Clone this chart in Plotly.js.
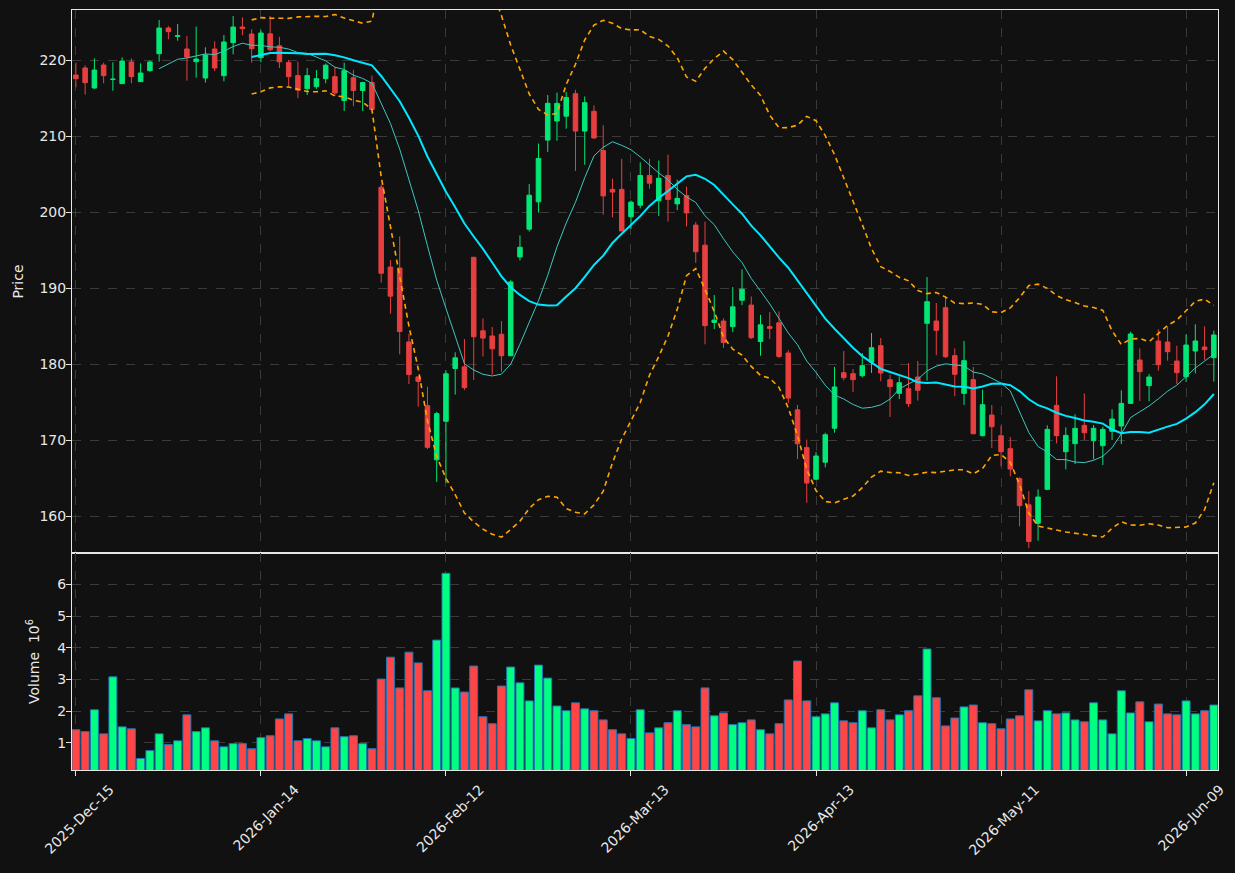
<!DOCTYPE html>
<html>
<head>
<meta charset="utf-8">
<script src="https://cdn.plot.ly/plotly-3.0.1.min.js"></script>
<style>html,body{margin:0;padding:0;background:#111111;}#chart{width:1235px;height:873px;}</style>
</head>
<body>
<div id="chart"></div>
<script>
// Trading dates (NYSE calendar)
const dates = [
"2025-12-15","2025-12-16","2025-12-17","2025-12-18","2025-12-19","2025-12-22","2025-12-23","2025-12-24","2025-12-26","2025-12-29","2025-12-30","2025-12-31",
"2026-01-02","2026-01-05","2026-01-06","2026-01-07","2026-01-08","2026-01-09","2026-01-12","2026-01-13","2026-01-14","2026-01-15","2026-01-16","2026-01-20","2026-01-21","2026-01-22","2026-01-23","2026-01-26","2026-01-27","2026-01-28","2026-01-29","2026-01-30",
"2026-02-02","2026-02-03","2026-02-04","2026-02-05","2026-02-06","2026-02-09","2026-02-10","2026-02-11","2026-02-12","2026-02-13","2026-02-17","2026-02-18","2026-02-19","2026-02-20","2026-02-23","2026-02-24","2026-02-25","2026-02-26","2026-02-27",
"2026-03-02","2026-03-03","2026-03-04","2026-03-05","2026-03-06","2026-03-09","2026-03-10","2026-03-11","2026-03-12","2026-03-13","2026-03-16","2026-03-17","2026-03-18","2026-03-19","2026-03-20","2026-03-23","2026-03-24","2026-03-25","2026-03-26","2026-03-27","2026-03-30","2026-03-31",
"2026-04-01","2026-04-02","2026-04-06","2026-04-07","2026-04-08","2026-04-09","2026-04-10","2026-04-13","2026-04-14","2026-04-15","2026-04-16","2026-04-17","2026-04-20","2026-04-21","2026-04-22","2026-04-23","2026-04-24","2026-04-27","2026-04-28","2026-04-29","2026-04-30",
"2026-05-01","2026-05-04","2026-05-05","2026-05-06","2026-05-07","2026-05-08","2026-05-11","2026-05-12","2026-05-13","2026-05-14","2026-05-15","2026-05-18","2026-05-19","2026-05-20","2026-05-21","2026-05-22","2026-05-26","2026-05-27","2026-05-28","2026-05-29",
"2026-06-01","2026-06-02","2026-06-03","2026-06-04","2026-06-05","2026-06-08","2026-06-09","2026-06-10","2026-06-11","2026-06-12"
];

const openP = [
218.03,218.95,216.32,219.34,217.43,216.89,219.74,217.15,218.60,220.83,
224.21,223.11,221.45,219.78,217.63,221.45,217.94,222.28,224.34,223.42,
220.31,223.45,221.87,219.68,217.95,216.21,216.49,217.54,217.81,214.66,
217.67,215.99,217.03,203.26,192.76,192.63,182.91,178.30,174.52,167.40,
172.46,179.40,179.63,194.04,184.37,183.69,183.91,181.09,194.09,197.74,
201.34,209.46,211.97,212.61,215.57,210.65,213.25,208.09,202.98,202.98,
199.38,200.89,204.81,201.48,204.81,201.07,202.16,198.28,195.64,185.47,
185.65,184.92,188.39,187.75,182.96,184.92,185.42,181.45,173.97,169.00,
164.84,167.08,171.55,178.86,178.73,178.46,180.26,182.41,177.94,176.14,
176.75,178.29,185.35,185.66,187.41,181.10,176.14,177.94,170.57,173.29,
170.57,168.86,164.91,161.47,159.04,163.51,174.56,168.46,169.52,171.93,
169.91,169.25,171.14,171.84,174.82,180.53,177.15,183.03,182.89,180.39,
178.33,181.71,182.24,180.83];

const highP = [
219.65,219.30,220.22,219.65,219.69,220.35,220.22,219.56,219.91,225.26,
224.47,224.74,223.16,224.39,221.67,222.46,223.29,225.79,225.61,224.04,
223.95,225.79,223.06,220.00,219.77,218.95,218.68,219.54,219.09,219.64,
218.72,217.13,217.95,203.60,193.68,196.78,183.96,178.40,177.00,173.70,
179.17,181.54,183.28,194.10,186.01,184.87,185.65,191.03,196.92,203.67,
209.01,215.39,215.71,215.80,216.08,215.21,214.02,211.42,204.40,207.00,
201.52,206.54,207.00,206.77,207.55,204.26,203.35,198.69,198.74,189.07,
186.01,190.12,192.44,188.89,186.47,186.83,186.92,181.82,174.61,170.05,
168.40,170.96,179.63,181.71,179.34,181.45,184.08,183.42,178.60,178.38,
180.13,180.39,191.45,188.03,188.90,182.06,183.03,179.61,176.62,174.61,
171.89,170.39,165.10,163.30,163.51,171.93,178.38,171.67,173.38,176.14,
171.97,171.75,174.04,176.54,184.25,182.06,178.68,184.56,184.91,182.41,
183.90,185.22,184.96,184.39];

const lowP = [
216.40,215.44,216.18,216.93,215.96,216.84,216.93,217.11,218.46,219.78,
222.72,222.54,217.28,217.68,217.02,218.55,217.19,220.75,223.25,219.65,
219.69,221.14,218.95,216.49,214.98,215.39,216.21,216.94,215.30,213.29,
213.93,213.29,213.38,190.71,186.61,181.27,177.35,174.38,168.81,164.48,
164.34,175.98,176.57,177.89,181.00,178.62,178.99,181.00,193.63,197.42,
199.93,207.91,209.37,210.97,205.40,206.22,209.64,199.65,199.29,197.51,
197.78,200.47,203.07,199.47,198.74,200.25,198.10,193.31,182.59,184.60,
182.14,184.19,187.75,183.28,181.09,183.28,180.77,174.84,167.49,161.74,
164.75,166.40,170.96,177.85,176.32,178.25,178.82,177.72,173.03,175.39,
174.34,175.18,177.81,181.14,180.79,175.75,174.61,170.75,170.48,168.95,
166.54,165.22,158.64,155.77,156.75,163.40,169.56,166.14,166.84,170.00,
167.46,166.71,170.00,169.47,174.80,175.13,175.09,179.12,180.44,177.37,
177.63,178.77,180.53,177.68];

const closeP = [
217.54,217.02,218.68,217.94,217.48,219.87,217.81,218.29,219.74,224.21,
223.73,223.20,220.39,220.13,220.66,218.95,222.37,224.34,224.12,221.49,
223.55,221.35,219.77,217.81,216.03,217.95,217.54,219.32,215.67,218.59,
215.99,217.03,213.48,191.94,188.93,184.28,178.62,177.71,169.04,173.47,
178.71,180.81,176.89,183.59,183.41,182.00,181.09,190.80,195.36,202.21,
207.04,214.30,214.30,215.07,210.65,214.39,209.74,202.12,202.62,197.51,
201.30,204.81,203.80,204.44,201.66,201.80,199.88,194.77,185.05,185.78,
182.82,187.52,189.84,183.46,185.15,184.69,181.00,175.52,169.50,164.34,
167.90,170.69,176.98,178.20,177.94,179.78,182.15,178.82,177.02,177.54,
174.78,176.54,188.20,184.43,180.96,178.64,180.44,170.83,174.65,171.75,
168.46,166.18,161.36,156.65,162.50,171.40,170.57,170.61,171.54,170.96,
171.54,171.40,172.76,174.82,183.95,178.99,178.29,179.91,181.62,178.86,
182.50,183.03,181.89,183.82];

// Volume, in millions of shares
const volumeM = [
1.41,1.35,2.04,1.28,3.08,1.50,1.44,0.50,0.75,1.28,
0.94,1.06,1.88,1.35,1.47,1.06,0.87,0.97,0.97,0.81,
1.16,1.22,1.75,1.91,1.06,1.13,1.06,0.87,1.47,1.19,
1.22,0.97,0.81,3.01,3.70,2.73,3.86,3.52,2.64,4.24,
6.35,2.73,2.60,3.42,1.82,1.60,2.79,3.39,2.89,2.32,
3.45,3.04,2.16,2.01,2.26,2.07,2.01,1.72,1.41,1.28,
1.13,2.04,1.31,1.47,1.63,2.01,1.57,1.50,2.73,1.85,
1.94,1.57,1.63,1.72,1.41,1.28,1.60,2.35,3.58,2.32,
1.82,1.91,2.26,1.69,1.63,2.01,1.47,2.04,1.72,1.88,
2.01,2.48,3.96,2.42,1.53,1.78,2.13,2.19,1.63,1.60,
1.44,1.75,1.85,2.67,1.69,2.01,1.91,1.94,1.72,1.66,
2.26,1.72,1.28,2.64,1.94,2.29,1.66,2.22,1.91,1.88,
2.32,1.91,2.01,2.19];

const tickIdx = [0,20,40,60,80,100,120];
const priceTicks = [160,170,180,190,200,210,220];
const volTicks = [1,2,3,4,5,6];

// ---- derived ----
const MON = ["Jan","Feb","Mar","Apr","May","Jun","Jul","Aug","Sep","Oct","Nov","Dec"];
const fmt = d => { const p = d.split("-"); return p[0] + "-" + MON[+p[1]-1] + "-" + p[2]; };
const xs = dates.map((d,i) => i);
const volume = volumeM.map(v => v * 1e6);

function sma(arr, n) {
  return arr.map((v,i) => {
    if (i < n-1) return null;
    let s = 0; for (let k = i-n+1; k <= i; k++) s += arr[k];
    return s / n;
  });
}
function rstd(arr, n) {
  return arr.map((v,i) => {
    if (i < n-1) return null;
    let s = 0; for (let k = i-n+1; k <= i; k++) s += arr[k];
    const m = s / n; let q = 0;
    for (let k = i-n+1; k <= i; k++) q += (arr[k]-m)*(arr[k]-m);
    return Math.sqrt(q / n);
  });
}
const ma10 = sma(closeP, 10);
const ma20 = sma(closeP, 20);
const sd20 = rstd(closeP, 20);
const upper = ma20.map((m,i) => m === null ? null : m + 2*sd20[i]);
const lower = ma20.map((m,i) => m === null ? null : m - 2*sd20[i]);

const UP_C = "#02e775", DN_C = "#e73f3f";
const UP_V = "#00ff80", DN_V = "#ff4545";
const volColors = closeP.map((c,i) => c >= openP[i] ? UP_V : DN_V);

const traces = [
  {
    type: "candlestick", x: xs, open: openP, high: highP, low: lowP, close: closeP,
    xaxis: "x", yaxis: "y", whiskerwidth: 0, hoverinfo: "skip",
    increasing: { line: { color: UP_C, width: 1 }, fillcolor: UP_C },
    decreasing: { line: { color: DN_C, width: 1 }, fillcolor: DN_C }
  },
  { type: "scatter", mode: "lines", x: xs, y: ma10, xaxis: "x", yaxis: "y",
    line: { color: "#3cc8c0", width: 1 }, hoverinfo: "skip" },
  { type: "scatter", mode: "lines", x: xs, y: ma20, xaxis: "x", yaxis: "y",
    line: { color: "#00e8ff", width: 2 }, hoverinfo: "skip" },
  { type: "scatter", mode: "lines", x: xs, y: upper, xaxis: "x", yaxis: "y",
    line: { color: "#ffa500", width: 1.6, dash: "5px,4px" }, hoverinfo: "skip" },
  { type: "scatter", mode: "lines", x: xs, y: lower, xaxis: "x", yaxis: "y",
    line: { color: "#ffa500", width: 1.6, dash: "5px,4px" }, hoverinfo: "skip" },
  { type: "bar", x: xs, y: volume, xaxis: "x2", yaxis: "y2", width: 0.86,
    marker: { color: volColors, line: { color: "#1f77b4", width: 1 } }, hoverinfo: "skip" }
];

const FONT = { family: "DejaVu Sans", size: 14, color: "#e8e8e8" };
const axBase = {
  showline: true, mirror: true, linecolor: "#e6e6e6", linewidth: 1,
  showgrid: true, gridcolor: "#3a3a3a", griddash: "dash", gridwidth: 1,
  zeroline: false, ticks: "outside", ticklen: 5, tickcolor: "#e6e6e6",
  tickfont: FONT
};

const layout = {
  width: 1235, height: 873,
  paper_bgcolor: "#111111", plot_bgcolor: "#111111",
  margin: { l: 72, r: 17, t: 10, b: 103 },
  showlegend: false, hovermode: false, font: FONT,
  xaxis: Object.assign({}, axBase, {
    domain: [0,1], anchor: "y", range: [-0.42, 123.45],
    tickvals: tickIdx, showticklabels: false, rangeslider: { visible: false }
  }),
  xaxis2: Object.assign({}, axBase, {
    domain: [0,1], anchor: "y2", matches: "x", range: [-0.42, 123.45],
    tickvals: tickIdx, ticktext: tickIdx.map(i => fmt(dates[i])), tickangle: -45,
    ticklabelshift: 34
  }),
  yaxis: Object.assign({}, axBase, {
    domain: [0.2855, 1], range: [155.13, 226.58], tickvals: priceTicks,
    ticklabelstandoff: -3,
    title: { text: "Price", font: FONT, standoff: 12 }
  }),
  yaxis2: Object.assign({}, axBase, {
    domain: [0, 0.2855], range: [0.138e6, 6.99e6],
    tickvals: volTicks.map(v => v*1e6), ticktext: volTicks.map(String),
    ticklabelstandoff: -3,
    title: { text: "Volume  10<sup>6</sup>", font: FONT, standoff: 14 }
  })
};

Plotly.newPlot("chart", traces, layout, { staticPlot: true, displayModeBar: false });
</script>
</body>
</html>
